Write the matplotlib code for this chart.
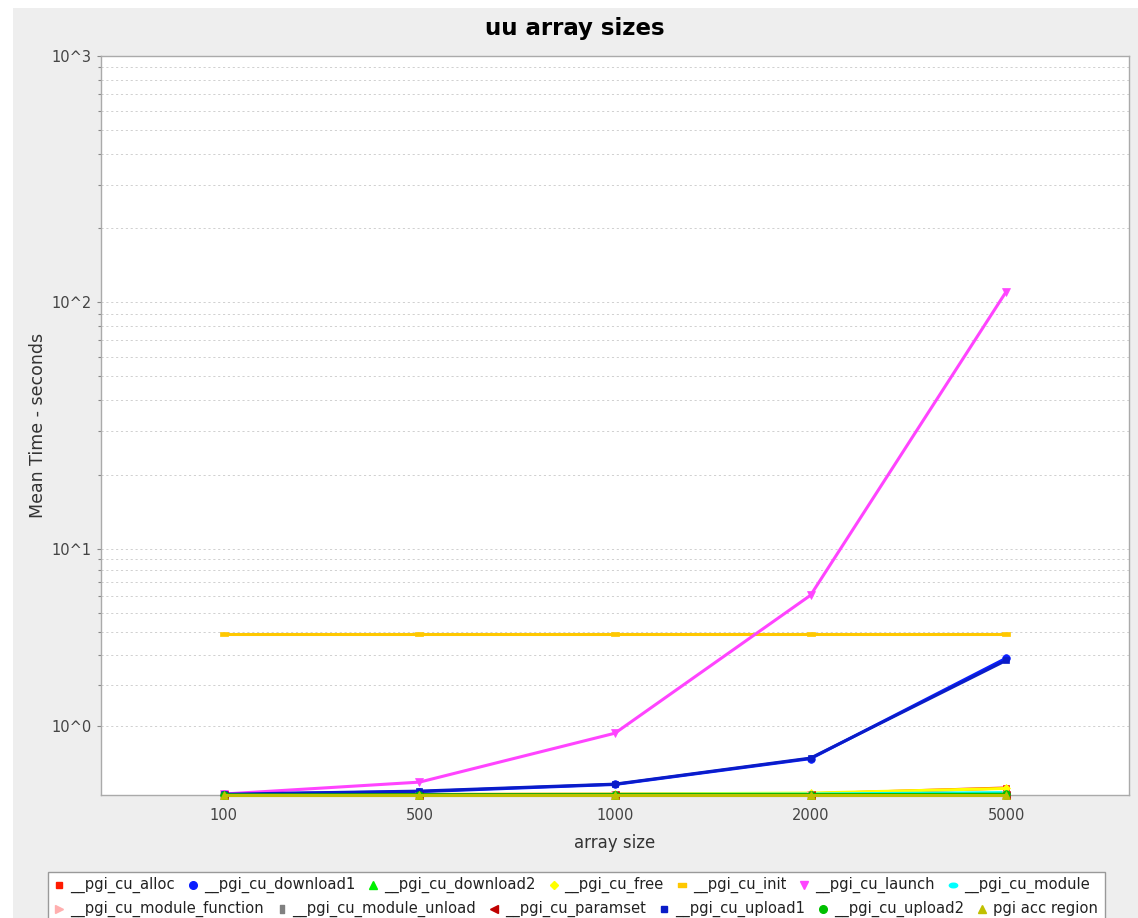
import numpy as np
import matplotlib
matplotlib.use("Agg")
import matplotlib.pyplot as plt
from matplotlib.path import Path
from matplotlib.transforms import Affine2D
from matplotlib.lines import Line2D
from matplotlib.patches import Rectangle

# ---- data -------------------------------------------------------------
array_sizes = ["100", "500", "1000", "2000", "5000"]

series_names = [
    "__pgi_cu_alloc", "__pgi_cu_download1", "__pgi_cu_download2", "__pgi_cu_free",
    "__pgi_cu_init", "__pgi_cu_launch", "__pgi_cu_module",
    "__pgi_cu_module_function", "__pgi_cu_module_unload", "__pgi_cu_paramset",
    "__pgi_cu_upload1", "__pgi_cu_upload2", "pgi acc region",
]

cu_alloc = [0.004, 0.005, 0.008, 0.012, 0.075]
cu_download1 = [0.008, 0.035, 0.115, 0.45, 2.88]
cu_download2 = [0.001, 0.002, 0.003, 0.005, 0.012]
cu_free = [0.004, 0.006, 0.010, 0.020, 0.070]
cu_init = [3.9, 3.9, 3.9, 3.9, 3.9]
cu_launch = [0.010, 0.142, 0.869, 6.08, 110.5]
cu_module = [0.003, 0.004, 0.006, 0.010, 0.025]
cu_module_function = [0.0005, 0.0005, 0.0005, 0.0005, 0.0005]
cu_module_unload = [0.0008, 0.0008, 0.0008, 0.0008, 0.0008]
cu_paramset = [0.0005, 0.0010, 0.0015, 0.0020, 0.0030]
cu_upload1 = [0.008, 0.041, 0.119, 0.458, 2.80]
cu_upload2 = [0.001, 0.002, 0.003, 0.004, 0.008]
acc_region = [0.0005, 0.0005, 0.0005, 0.0005, 0.0005]

series_values = [
    cu_alloc, cu_download1, cu_download2, cu_free, cu_init, cu_launch, cu_module,
    cu_module_function, cu_module_unload, cu_paramset, cu_upload1, cu_upload2,
    acc_region,
]

y_tick_values = [1, 10, 100, 1000]
y_tick_labels = ["10^0", "10^1", "10^2", "10^3"]

# ---- styles -----------------------------------------------------------
hrect = Path([(-1, -0.5), (1, -0.5), (1, 0.5), (-1, 0.5), (-1, -0.5)],
             [Path.MOVETO, Path.LINETO, Path.LINETO, Path.LINETO, Path.CLOSEPOLY])
vrect = Path([(-0.4, -1), (0.4, -1), (0.4, 1), (-0.4, 1), (-0.4, -1)],
             [Path.MOVETO, Path.LINETO, Path.LINETO, Path.LINETO, Path.CLOSEPOLY])
hellipse = Path.unit_circle().transformed(Affine2D().scale(1.0, 0.55))

colors = ["#FF1A00", "#0A1EFF", "#00F000", "#FFFF00", "#FFC800", "#FF44FF",
          "#00FFFF", "#FFAFAF", "#808080", "#C00000", "#0A1CC8", "#00C000",
          "#C0C000"]
markers = ["s", "o", "^", "D", hrect, "v", hellipse, ">", vrect, "<", "s", "o", "^"]
marker_sizes = [5, 5.5, 5.5, 4.5, 6, 5.5, 6, 5.5, 6, 5.5, 5, 5.5, 5.5]

FONT = "DejaVu Sans"
plt.rcParams["font.family"] = FONT

W, H = 1138, 918
fig = plt.figure(figsize=(W / 100, H / 100), dpi=100, facecolor="white")

# panel background
fig.patches.append(Rectangle((13 / W, 0), 1 - 13 / W, 1 - 8 / H,
                             transform=fig.transFigure, facecolor="#EEEEEE",
                             edgecolor="none", zorder=-10))

ax = fig.add_axes([101 / W, 1 - 795 / H, (1129 - 101) / W, (795 - 56) / H])
ax.set_facecolor("white")


# log axis that bends linearly below 10 so that zero can be shown
def fwd(v):
    v = np.asarray(v, dtype=float)
    with np.errstate(all="ignore"):
        return np.where(v < 10, np.log10(0.9 * v + 1.0), np.log10(v))


def inv(y):
    y = np.asarray(y, dtype=float)
    with np.errstate(all="ignore"):
        return np.where(y < 1, (10.0 ** y - 1.0) / 0.9, 10.0 ** y)


ax.set_yscale("function", functions=(fwd, inv))
ax.set_ylim(0, 1000)

x = np.arange(len(array_sizes))
for vals, col, mk, ms in zip(series_values, colors, markers, marker_sizes):
    ax.plot(x, vals, color=col, lw=2.2, marker=mk, markersize=ms,
            markerfacecolor=col, markeredgecolor=col, markeredgewidth=0.5,
            solid_joinstyle="round", zorder=3, clip_on=False)

ax.set_xlim(-0.628, len(array_sizes) - 1 + 0.628)
ax.set_xticks(x)
ax.set_xticklabels(array_sizes)
ax.tick_params(axis="x", length=0, pad=9, labelsize=10.5, labelcolor="#444444")

minor_ticks = [m * d for d in (1, 10, 100) for m in range(2, 10)]
ax.set_yticks(y_tick_values)
ax.set_yticklabels(y_tick_labels)
ax.set_yticks(minor_ticks, minor=True)
ax.yaxis.set_minor_formatter(matplotlib.ticker.NullFormatter())
ax.tick_params(axis="y", which="major", length=3, width=0.8, color="#888888",
               pad=4, labelsize=10.5, labelcolor="#444444")
ax.tick_params(axis="y", which="minor", length=2, width=0.8, color="#888888")
ax.grid(True, axis="y", which="both", linestyle=(0, (2.2, 2.8)),
        color="#D0D0D0", linewidth=0.7, zorder=0)
ax.set_axisbelow(True)

for side in ("left", "bottom", "top", "right"):
    ax.spines[side].set_color("#AAAAAA")
    ax.spines[side].set_linewidth(1.0)

ax.set_xlabel("array size", fontsize=12, color="#333333", labelpad=8)
ax.set_ylabel("Mean Time - seconds", fontsize=12.5, color="#333333", labelpad=0)
ax.yaxis.set_label_coords(-(101 - 47) / (1129 - 101), 0.5)
fig.text(575 / W, 1 - 29 / H, "uu array sizes", ha="center", va="center",
         fontsize=16.5, fontweight="bold", color="black")

# ---- legend (flow layout, two rows) ------------------------------------
fig.patches.append(Rectangle((48 / W, -0.02), (1105 - 48) / W, (0.02 + 1 - 872 / H),
                             transform=fig.transFigure, facecolor="white",
                             edgecolor="#999999", linewidth=1.0, zorder=1))

renderer = fig.canvas.get_renderer()
rows = [list(range(0, 7)), list(range(7, 13))]
row_y = [885, 909]
for row, yy in zip(rows, row_y):
    cx = 52
    for i in row:
        mx = cx + 7
        fig.add_artist(Line2D([mx / W], [1 - yy / H], transform=fig.transFigure,
                              marker=markers[i], markersize=marker_sizes[i],
                              color=colors[i], markerfacecolor=colors[i],
                              markeredgecolor=colors[i], linestyle="none",
                              zorder=2))
        t = fig.text((cx + 18) / W, 1 - yy / H, series_names[i], ha="left",
                     va="center", fontsize=10.6, color="#222222", zorder=2)
        wpx = t.get_window_extent(renderer).width
        cx = cx + 18 + wpx + 11

fig.savefig("out.png", dpi=100, facecolor="white")
